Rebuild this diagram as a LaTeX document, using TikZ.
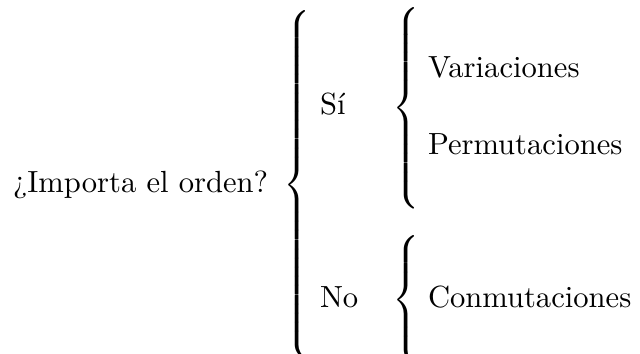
\documentclass[tikz,border=0pt]{standalone}
\usepackage{fontspec}
\usepackage{amsmath}

% braces of a fixed height, centred on the math axis
\delimiterfactor=1000
\delimitershortfall=0pt
\newcommand{\bigbr}[1]{$\left\{\vrule height \dimexpr#1/2+2.5pt\relax
  depth \dimexpr#1/2-2.5pt\relax width 0pt\right.$}

\begin{document}
\begin{tikzpicture}[x=0.3268pt, y=-0.3268pt,
                    nodes={inner sep=0, outer sep=0},
                    txt/.style={anchor=base west},
                    brc/.style={anchor=west}]
                \clip (0,0) rectangle (640,354);

                \node [txt] (q) at (13,193) {¿Importa el orden?};
                \node [brc] (bq) at (283,185) {\bigbr{112.5pt}};

                \node [txt] (si) at (320,115) {Sí};
                \node [brc] (bsi) at (392,108) {\bigbr{62pt}};
                \node [txt] (var) at (428,78) {Variaciones};
                \node [txt] (perm) at (428,155) {Permutaciones};

                \node [txt] (no) at (320,308) {No};
                \node [brc] (bno) at (392,300) {\bigbr{37.3pt}};
                \node [txt] (conm) at (428,308) {Conmutaciones};
            \end{tikzpicture}
\end{document}
